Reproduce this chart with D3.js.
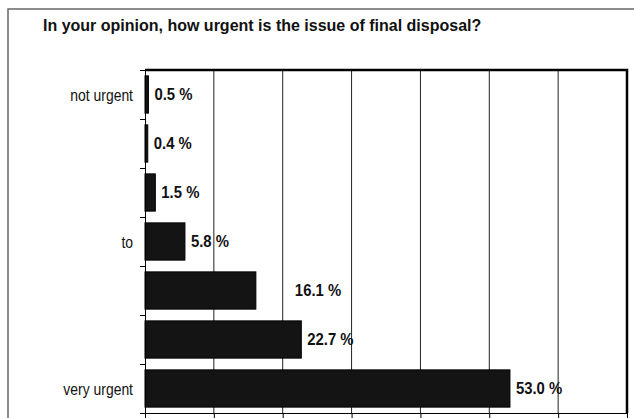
<!DOCTYPE html>
<html>
<head>
<meta charset="utf-8">
<script src="https://cdn.jsdelivr.net/npm/d3@7"></script>
<style>
	body { margin: 0; background: #fff; }
	text { font-family: "Liberation Sans", Arial, sans-serif; fill: #111; }
</style>
</head>
<body>
<svg id="chart" width="634" height="418"></svg>
<script>
var title = "In your opinion, how urgent is the issue of final disposal?";
var categories = ["1", "2", "3", "4", "5", "6", "7"];
var category_labels = ["not urgent", "", "", "to", "", "", "very urgent"];
var values = [0.5, 0.4, 1.5, 5.8, 16.1, 22.7, 53.0];
var x_ticks = [0, 10, 20, 30, 40, 50, 60, 70];

var svg = d3.select("#chart");
var plot = {left: 145, right: 627, top: 70, bottom: 413};

var x = d3.scaleLinear().domain([0, 70]).range([plot.left, plot.right]);
var y = d3.scaleBand().domain(categories).range([plot.top, plot.bottom]);
// band edges, used for the ticks between categories
var y_edges = d3.scaleLinear().domain([0, categories.length]).range([plot.top, plot.bottom]);

// outer frame (only top and left are inside the picture)
svg.append("path")
	.attr("d", "M8,418V9H634")
	.attr("fill", "none")
	.attr("stroke", "#666")
	.attr("stroke-width", 1.5);

svg.append("text")
	.attr("x", 43)
	.attr("y", 31)
	.style("font-size", "16px")
	.style("font-weight", "bold")
	.text(title);

// vertical grid
svg.append("g").selectAll("line")
	.data(x_ticks.slice(1, -1))
	.enter().append("line")
	.attr("x1", function(d){ return x(d); })
	.attr("x2", function(d){ return x(d); })
	.attr("y1", plot.top)
	.attr("y2", plot.bottom)
	.attr("stroke", "#222")
	.attr("stroke-width", 1);

// bars
svg.append("g").selectAll("rect")
	.data(values)
	.enter().append("rect")
	.attr("x", x(0))
	.attr("y", function(d, i){ return y(categories[i]) + y.bandwidth() * 0.12; })
	.attr("width", function(d){ return x(d) - x(0); })
	.attr("height", y.bandwidth() * 0.76)
	.attr("fill", "#141414")
	.attr("stroke", "#000")
	.attr("stroke-width", 1);

// value labels (16.1 sits further right in the original)
svg.append("g").selectAll("text")
	.data(values)
	.enter().append("text")
	.attr("transform", function(d, i){
		var shift = (d === 16.1) ? 39 : 6;
		return "translate(" + (x(d) + shift) + "," + (y(categories[i]) + y.bandwidth() / 2) + ") scale(0.93,1)";
	})
	.attr("dy", "0.36em")
	.style("font-size", "16px")
	.style("font-weight", "bold")
	.text(function(d){ return d.toFixed(1) + " %"; });

// category labels
svg.append("g").selectAll("text")
	.data(categories)
	.enter().append("text")
	.attr("transform", function(d){
		return "translate(" + (plot.left - 12) + "," + (y(d) + y.bandwidth() / 2) + ") scale(0.82,1)";
	})
	.attr("dy", "0.36em")
	.attr("text-anchor", "end")
	.style("font-size", "17px")
	.text(function(d, i){ return category_labels[i]; });

// axes
svg.append("g")
	.attr("transform", "translate(" + plot.left + ",0)")
	.call(d3.axisLeft(y_edges).ticks(categories.length).tickSize(5).tickSizeOuter(5).tickFormat(""));

svg.append("g")
	.attr("transform", "translate(0," + plot.bottom + ")")
	.call(d3.axisBottom(x).tickValues(x_ticks).tickSize(6).tickSizeOuter(0).tickFormat(""));

// heavier top and right border of the plot
svg.append("path")
	.attr("d", "M" + plot.left + "," + plot.top + "H" + plot.right + "V" + plot.bottom)
	.attr("fill", "none")
	.attr("stroke", "#000")
	.attr("stroke-width", 2.5);

svg.selectAll(".domain").attr("stroke", "#000");
svg.selectAll(".tick line").attr("stroke", "#000");
</script>
</body>
</html>
